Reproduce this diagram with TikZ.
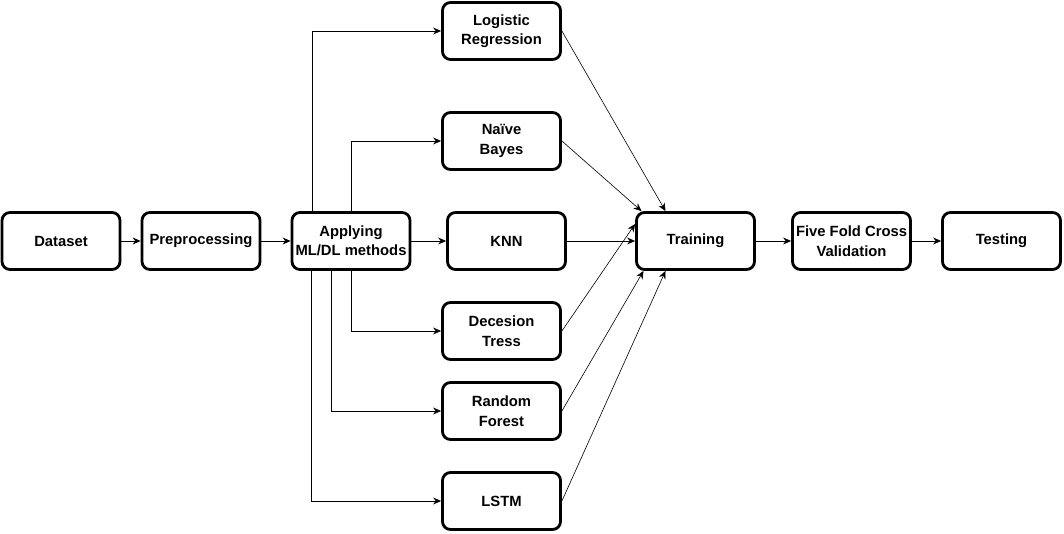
\documentclass[tikz,border=0pt]{standalone}
\usepackage{fontspec}
\setmainfont{Liberation Sans}
\usetikzlibrary{arrows.meta}
\begin{document}
\begin{tikzpicture}[x=1pt,y=-1pt,
  box/.style={draw, line width=2.8pt, rounded corners=8pt, minimum width=118pt, minimum height=57pt,
    inner sep=0pt, align=center, font=\fontsize{14.8}{19.5}\selectfont\bfseries},
  conn/.style={draw, line width=0.8pt, -{Stealth[length=8pt,width=7pt]}},
  thinconn/.style={draw, line width=0.6pt, -{Stealth[length=8pt,width=7pt]}}]
\useasboundingbox (0,0) rectangle (1064,534);
\node[box] (dataset) at (61,241) {\raisebox{-1pt}{Dataset}};
\node[box] (pre) at (201,241) {\raisebox{-1pt}{Preprocessing}};
\node[box] (apply) at (351,241) {Applying\\ML/DL methods};
\node[box] (knn) at (506.5,241) {\raisebox{-1pt}{KNN}};
\node[box] (train) at (695.5,241) {\raisebox{-1pt}{Training}};
\node[box] (five) at (851.5,241) {Five Fold Cross\\Validation};
\node[box] (test) at (1001.5,241) {\raisebox{-1pt}{Testing}};
\node[box] (log) at (501.5,31) {Logistic\\Regression};
\node[box] (naive) at (501.5,141) {Naïve\\Bayes};
\node[box] (dec) at (501.5,331) {Decesion\\Tress};
\node[box] (rf) at (501.5,411) {Random\\Forest};
\node[box] (lstm) at (501.5,501) {\raisebox{-1pt}{LSTM}};

\draw[conn] (dataset) -- (pre);
\draw[conn] (pre) -- (apply);
\draw[conn] (apply) -- (knn);
\draw[conn] ([xshift=-39pt]apply.north) |- (log.west);
\draw[conn] (apply.north) |- (naive.west);
\draw[conn] ([xshift=-40pt]apply.south) |- (lstm.west);
\draw[conn] ([xshift=-20pt]apply.south) |- (rf.west);
\draw[conn] (apply.south) |- (dec.west);

\draw[thinconn] (log.east) -- ([xshift=-30pt]train.north);
\draw[thinconn] (naive.east) -- ([xshift=-54pt]train.north);
\draw[conn] (knn) -- (train);
\draw[thinconn] (dec.east) -- ([yshift=17pt]train.west);
\draw[thinconn] (rf.east) -- ([xshift=-52pt]train.south);
\draw[thinconn] (lstm.east) -- ([xshift=-30pt]train.south);
\draw[conn] (train) -- (five);
\draw[conn] (five) -- (test);
\end{tikzpicture}
\end{document}
